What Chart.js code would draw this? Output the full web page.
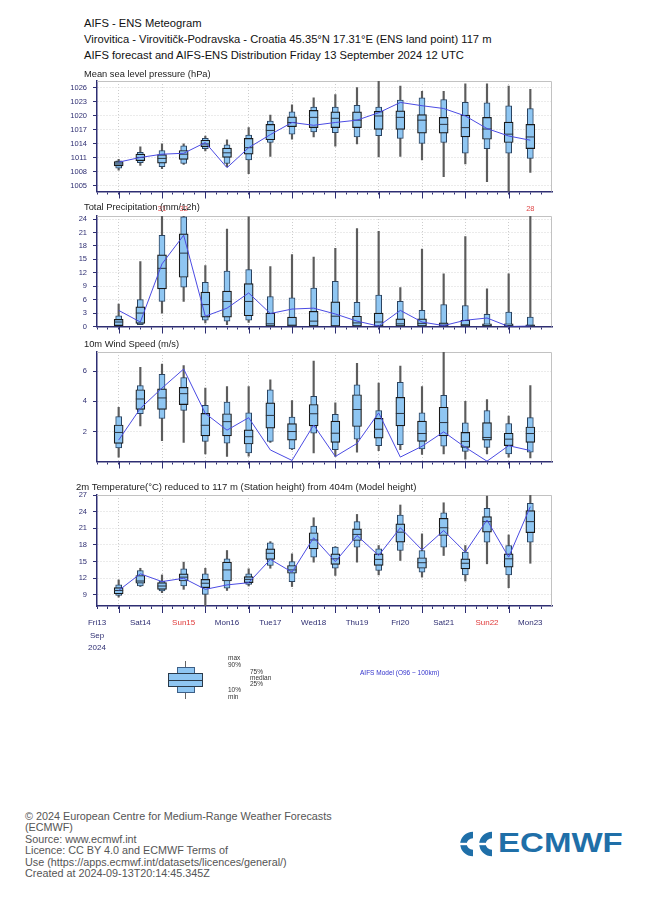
<!DOCTYPE html>
<html>
<head>
<meta charset="utf-8">
<script src="https://cdn.jsdelivr.net/npm/chart.js@4/dist/chart.umd.min.js"></script>
<style>
  body { margin: 0; width: 650px; height: 897px; background: #fff; position: relative; overflow: hidden;
         font-family: "Liberation Sans", Arial, sans-serif; }
  .txt { position: absolute; white-space: nowrap; line-height: 1; }
  canvas { position: absolute; left: 0; }
  .lg { position: absolute; box-sizing: border-box; }
</style>
</head>
<body>
<div class="txt" style="left:84px;top:18px;font-size:11.2px;color:#111">AIFS - ENS Meteogram</div>
<div class="txt" style="left:84px;top:34px;font-size:11.2px;color:#111">Virovitica - Virovitičk-Podravska - Croatia 45.35°N 17.31°E (ENS land point) 117 m</div>
<div class="txt" style="left:84px;top:50px;font-size:11.2px;color:#111">AIFS forecast and AIFS-ENS Distribution Friday 13 September 2024 12 UTC</div>

<canvas id="cPres"></canvas>
<canvas id="cRain"></canvas>
<canvas id="cWind"></canvas>
<canvas id="cTemp"></canvas>

<div class="txt" style="left:84px;top:70px;font-size:9.3px;color:#222">Mean sea level pressure (hPa)</div>
<div class="txt" style="left:84px;top:203px;font-size:9.3px;color:#222">Total Precipitation (mm/12h)</div>
<div class="txt" style="left:84px;top:340px;font-size:9.3px;color:#222">10m Wind Speed (m/s)</div>
<div class="txt" style="left:76px;top:482px;font-size:9.5px;color:#222">2m Temperature(°C) reduced to 117 m (Station height) from 404m (Model height)</div>

<!-- legend -->
<div class="lg" style="left:185px;top:661px;width:1px;height:38px;background:#666"></div>
<div class="lg" style="left:177px;top:667px;width:18px;height:26px;background:#8fc6f2;border:1px solid #3d5f86"></div>
<div class="lg" style="left:168px;top:673px;width:35px;height:14px;background:#8fc6f2;border:1px solid #2a3a4a"></div>
<div class="lg" style="left:168px;top:680px;width:35px;height:1px;background:#2a3a4a"></div>
<div class="txt" style="left:228px;top:655px;font-size:6.5px;color:#333">max</div>
<div class="txt" style="left:228px;top:662px;font-size:6.5px;color:#333">90%</div>
<div class="txt" style="left:250px;top:669px;font-size:6.5px;color:#333">75%</div>
<div class="txt" style="left:250px;top:675px;font-size:6.5px;color:#333">median</div>
<div class="txt" style="left:250px;top:681px;font-size:6.5px;color:#333">25%</div>
<div class="txt" style="left:228px;top:687px;font-size:6.5px;color:#333">10%</div>
<div class="txt" style="left:228px;top:694px;font-size:6.5px;color:#333">min</div>
<div class="txt" style="left:360px;top:670px;font-size:6.5px;color:#3333cc">AIFS Model (O96 ~ 100km)</div>

<!-- footer -->
<div class="txt" style="left:25px;top:811px;font-size:10.8px;line-height:11.4px;color:#555">© 2024 European Centre for Medium-Range Weather Forecasts<br>(ECMWF)<br>Source: www.ecmwf.int<br>Licence: CC BY 4.0 and ECMWF Terms of<br>Use (https://apps.ecmwf.int/datasets/licences/general/)<br>Created at 2024-09-13T20:14:45.345Z</div>

<svg style="position:absolute;left:455px;top:830px" width="42" height="28" viewBox="0 0 42 28">
  <path d="M18 5 A9.5 9 0 1 0 18 23" fill="none" stroke="#1f6fa8" stroke-width="6.5"/>
  <path d="M37 5 A9.5 9 0 1 0 37 23" fill="none" stroke="#1f6fa8" stroke-width="6.5"/>
  <rect x="0" y="12.8" width="36" height="2.4" fill="#fff"/>
</svg>
<div class="txt" style="left:498px;top:829px;font-size:28px;font-weight:bold;color:#1f6fa8;transform:scaleX(1.18);transform-origin:left top">ECMWF</div>

<script>
// forecast steps in hours from Fri 13 Sep 00 UTC
const steps = [12, 24, 36, 48, 60, 72, 84, 96, 108, 120, 132, 144, 156, 168, 180, 192, 204, 216, 228, 240];
const dayLabels = ['Fri13', 'Sat14', 'Sun15', 'Mon16', 'Tue17', 'Wed18', 'Thu19', 'Fri20', 'Sat21', 'Sun22', 'Mon23'];

// mean sea level pressure (hPa)
const presMin = [1008.4, 1009.4, 1008.7, 1009.6, 1012.5, 1009.1, 1007.6, 1011.3, 1015.0, 1015.5, 1013.5, 1014.0, 1011.2, 1011.3, 1010.6, 1007.0, 1009.7, 1005.9, 1003.0, 1007.9];
const pres10 = [1008.8, 1010.0, 1009.1, 1009.8, 1013.0, 1009.8, 1010.6, 1014.3, 1016.1, 1016.6, 1016.4, 1015.5, 1015.8, 1015.2, 1014.1, 1014.3, 1012.0, 1013.0, 1012.0, 1010.9];
const pres25 = [1009.3, 1010.4, 1009.9, 1010.7, 1013.4, 1011.1, 1011.8, 1014.9, 1017.7, 1017.5, 1017.5, 1017.5, 1017.1, 1017.1, 1016.3, 1016.3, 1015.5, 1015.0, 1014.3, 1013.0];
const presMed = [1009.7, 1011.1, 1010.9, 1011.8, 1014.0, 1012.1, 1013.2, 1016.9, 1018.6, 1019.7, 1019.5, 1019.1, 1020.0, 1019.7, 1019.1, 1018.2, 1017.5, 1017.2, 1016.1, 1015.5];
const pres75 = [1010.2, 1011.8, 1011.7, 1012.6, 1014.8, 1013.1, 1015.2, 1018.2, 1019.8, 1021.2, 1020.9, 1020.9, 1021.0, 1021.1, 1020.3, 1019.7, 1020.2, 1019.7, 1018.7, 1018.2];
const pres90 = [1010.4, 1012.2, 1012.6, 1013.6, 1015.2, 1013.8, 1015.9, 1018.9, 1020.9, 1021.9, 1021.9, 1022.3, 1021.9, 1023.4, 1023.9, 1023.5, 1022.9, 1022.8, 1022.2, 1021.6];
const presMax = [1010.7, 1013.4, 1014.0, 1014.0, 1015.7, 1014.9, 1017.5, 1020.2, 1022.4, 1023.9, 1024.6, 1026.1, 1028.0, 1026.4, 1025.3, 1025.3, 1026.9, 1026.9, 1026.4, 1025.7];
const presDet = [1010.1, 1011.1, 1011.8, 1012.0, 1014.3, 1008.9, 1013.2, 1016.0, 1018.6, 1018.0, 1018.6, 1019.1, 1020.7, 1022.9, 1022.2, 1021.6, 1020.0, 1017.3, 1015.7, 1014.8];

// total precipitation (mm/12h)
const rainMin = [0, 0.4, 3.0, 5.6, 0.8, 0.4, 0.9, 0, 0, 0, 0, 0, 0, 0, 0, 0, 0, 0, 0, 0];
const rain10 = [0, 0.4, 5.6, 8.8, 1.4, 1.2, 1.4, 0, 0, 0, 0, 0, 0, 0, 0, 0, 0, 0, 0, 0];
const rain25 = [0.2, 0.7, 8.4, 11.0, 2.1, 2.1, 2.4, 0, 0, 0, 0, 0, 0, 0, 0, 0, 0, 0, 0, 0];
const rainMed = [1.0, 3.0, 13.0, 16.4, 4.9, 5.6, 5.6, 0.6, 0.3, 1.2, 2.3, 0.8, 1.0, 0.6, 0.7, 0.3, 0.4, 0.2, 0.2, 0.2];
const rain75 = [1.6, 4.4, 16.0, 20.7, 7.7, 7.9, 9.6, 3.0, 2.1, 3.4, 5.5, 2.3, 3.0, 1.7, 1.7, 0.8, 1.4, 0.6, 0.6, 0.4];
const rain90 = [2.4, 6.0, 20.4, 24.5, 9.9, 12.4, 12.7, 6.7, 6.4, 8.6, 10.1, 5.4, 7.0, 5.6, 3.6, 4.9, 4.7, 2.7, 3.2, 2.1];
const rainMax = [5.0, 14.5, 31, 32, 13.6, 21.8, 24.5, 13.4, 16.1, 15.5, 17.5, 21.9, 21.3, 8.7, 17.3, 11.8, 20.1, 8.4, 11.8, 28];
const rainDet = [3.6, 1.0, 14.0, 20.4, 2.3, 4.1, 7.5, 2.9, 3.9, 4.1, 2.8, 1.2, 0.1, 3.6, 1.0, 0.2, 1.4, 1.9, 0.0, 0.1];

// 10m wind speed (m/s)
const windMin = [0.34, 2.39, 1.42, 1.31, 0.55, 0.38, 0.4, 1.3, 0.83, 0.62, 0.38, 0.66, 0.77, 0.83, 0.51, 0.55, 0.2, 0.55, 0.34, 0.29];
const wind10 = [0.94, 3.19, 2.89, 3.41, 1.37, 1.26, 0.62, 1.37, 0.88, 1.91, 0.83, 1.52, 1.09, 1.16, 0.88, 1.05, 0.72, 0.98, 0.55, 0.66];
const wind25 = [1.24, 3.47, 3.47, 3.79, 1.74, 1.74, 1.2, 2.24, 1.46, 2.39, 1.31, 2.35, 1.59, 2.39, 1.37, 1.74, 0.98, 1.46, 1.09, 1.31];
const windMed = [1.96, 4.16, 4.23, 4.51, 2.43, 2.67, 1.68, 3.08, 2.02, 3.19, 1.91, 3.47, 2.17, 3.21, 1.89, 2.61, 1.37, 1.63, 1.52, 1.89];
const wind75 = [2.45, 4.77, 4.83, 4.92, 3.21, 3.19, 2.13, 3.9, 2.54, 3.8, 2.71, 4.44, 2.89, 4.27, 2.71, 3.62, 1.96, 2.61, 1.91, 2.32];
const wind90 = [3.0, 5.05, 5.78, 5.57, 3.75, 3.95, 3.25, 4.77, 2.97, 4.34, 3.15, 5.09, 3.4, 5.26, 3.25, 4.4, 2.6, 3.4, 2.54, 2.93];
const windMax = [3.62, 6.24, 6.45, 6.35, 4.88, 4.98, 4.98, 5.42, 4.05, 6.65, 3.9, 6.5, 5.2, 6.32, 4.98, 7.4, 4.01, 4.12, 3.04, 5.05];
const windDet = [1.46, 3.54, 4.88, 6.13, 3.21, 2.11, 2.93, 0.81, 0.12, 2.45, 0.38, 1.24, 3.25, 0.34, 1.05, 2.0, 0.98, 0.07, 1.09, 0.77];

// 2m temperature (°C)
const tempMin = [8.6, 10.5, 9.4, 10.0, 6.4, 9.8, 10.6, 13.8, 10.5, 14.9, 12.5, 14.9, 12.6, 15.2, 12.2, 16.1, 11.5, 14.6, 10.3, 14.7];
const temp10 = [8.9, 10.6, 9.7, 10.6, 9.1, 10.2, 10.9, 14.3, 11.4, 15.8, 13.8, 17.6, 13.4, 17.0, 13.1, 17.6, 12.6, 18.5, 12.6, 18.5];
const temp25 = [9.2, 11.1, 10.0, 11.5, 10.3, 11.5, 11.2, 15.4, 12.9, 17.3, 14.5, 18.8, 14.3, 18.5, 13.8, 19.7, 13.7, 20.3, 14.0, 20.2];
const tempMed = [9.8, 11.5, 10.6, 12.2, 11.1, 13.5, 11.8, 16.5, 13.5, 18.9, 15.5, 19.9, 15.4, 20.3, 14.8, 21.1, 14.7, 22.2, 15.5, 22.2];
const temp75 = [10.3, 12.5, 11.2, 12.8, 11.8, 14.9, 12.3, 17.3, 14.3, 20.2, 16.4, 20.9, 16.4, 21.8, 15.7, 22.8, 15.5, 23.1, 16.4, 24.2];
const temp90 = [10.8, 13.4, 11.5, 13.7, 12.8, 15.5, 12.8, 18.4, 15.0, 21.4, 17.6, 22.2, 17.3, 23.4, 17.0, 23.8, 16.7, 24.6, 17.9, 25.5];
const tempMax = [11.7, 13.8, 12.6, 14.9, 13.8, 17.0, 13.7, 18.6, 16.4, 22.9, 17.7, 23.5, 17.9, 25.2, 20.0, 25.6, 17.9, 26.8, 19.8, 27.5];
const tempDet = [9.8, 12.8, 11.4, 12.0, 10.0, 10.8, 11.2, 15.4, 13.1, 19.3, 15.0, 19.7, 16.1, 21.1, 17.1, 20.6, 16.7, 22.5, 15.8, 24.9];

const axisColor = '#2e2e72';
const boxFill = '#8fc6f2';
const PAD_TOP = 14;

const range = (lo, hi) => steps.map((s, i) => ({ x: s, y: [lo[i], hi[i]] }));
const points = (vals) => steps.map((s, i) => ({ x: s, y: vals[i] }));

const boxDatasets = (lo, p10, p25, med, p75, p90, hi, det) => [
  { type: 'line', data: points(det), borderColor: '#4b4be3', borderWidth: 1, pointRadius: 0, order: 1 },
  { type: 'line', data: points(med), showLine: false, pointStyle: 'line', pointRadius: 4.5,
    pointBorderColor: '#2a3440', pointBorderWidth: 1, order: 2 },
  { type: 'bar', data: range(p25, p75), barThickness: 9, backgroundColor: boxFill, borderColor: '#1a1a1a',
    borderWidth: 1.2, borderSkipped: false, grouped: false, order: 3 },
  { type: 'bar', data: range(p10, p90), barThickness: 6, backgroundColor: boxFill, borderColor: '#2c4460',
    borderWidth: 1, borderSkipped: false, grouped: false, order: 4 },
  { type: 'bar', data: range(lo, hi), barThickness: 1.5, backgroundColor: '#5c5c5c', borderWidth: 0,
    grouped: false, order: 5 },
];

// light frame on top/right, long ticks under the vertical grid lines, red labels for clipped maxima
const framePlugin = {
  id: 'frame',
  beforeDatasetsDraw(chart) {
    const { ctx, chartArea: a } = chart;
    ctx.save();
    ctx.strokeStyle = '#c2c2c2';
    ctx.lineWidth = 1;
    ctx.beginPath();
    ctx.moveTo(a.left, a.top + 0.5);
    ctx.lineTo(a.right - 0.5, a.top + 0.5);
    ctx.lineTo(a.right - 0.5, a.bottom);
    ctx.stroke();
    const xs = chart.scales.x;
    ctx.strokeStyle = axisColor;
    ctx.beginPath();
    for (let h = 12; h < xs.max; h += 24) {
      const px = Math.round(xs.getPixelForValue(h)) + 0.5;
      ctx.moveTo(px, a.bottom);
      ctx.lineTo(px, a.bottom + 7);
    }
    ctx.stroke();
    ctx.restore();
  },
  afterDatasetsDraw(chart) {
    if (!chart.options.plugins.frame || !chart.options.plugins.frame.overflow) return;
    const { ctx, chartArea: a } = chart;
    const ys = chart.scales.y;
    const xs = chart.scales.x;
    const whisker = chart.data.datasets[4].data;
    ctx.save();
    ctx.fillStyle = '#e04848';
    ctx.font = '7.5px "Liberation Sans", Arial, sans-serif';
    ctx.textAlign = 'center';
    ctx.textBaseline = 'middle';
    whisker.forEach((d) => {
      if (d.y[1] > ys.max) {
        ctx.fillText(String(Math.round(d.y[1])), xs.getPixelForValue(d.x), a.top - 7);
      }
    });
    ctx.restore();
  },
};

function makePanel(id, plotTop, plotBottom, yMin, yMax, yStep, datasets, withLabels, overflow) {
  const axisH = withLabels ? 50 : 10;
  const canvas = document.getElementById(id);
  canvas.width = 650;
  canvas.height = plotBottom - plotTop + PAD_TOP + axisH;
  canvas.style.top = (plotTop - PAD_TOP) + 'px';

  new Chart(canvas, {
    type: 'bar',
    data: { datasets },
    plugins: [framePlugin],
    options: {
      responsive: false,
      animation: false,
      events: [],
      devicePixelRatio: 1,
      layout: { padding: { left: 57, right: 98, top: PAD_TOP, bottom: 0 } },
      plugins: { legend: { display: false }, tooltip: { enabled: false }, frame: { overflow } },
      scales: {
        x: {
          type: 'linear',
          min: 0,
          max: 252,
          offset: false,
          afterBuildTicks: (scale) => {
            const t = [];
            for (let h = 0; h < 252; h += 6) t.push({ value: h });
            scale.ticks = t;
          },
          afterFit: (scale) => { scale.height = axisH; },
          grid: {
            offset: false,
            drawOnChartArea: true,
            color: (c) => (c.tick && c.tick.value % 24 === 12 ? '#cdcdcd' : 'rgba(0,0,0,0)'),
            tickColor: axisColor,
            tickLength: 3,
          },
          border: { color: axisColor, width: 1.5, dash: [1, 2] },
          ticks: {
            display: withLabels,
            autoSkip: false,
            maxRotation: 0,
            padding: 8,
            font: { size: 8, family: '"Liberation Sans", Arial, sans-serif', lineHeight: 1.55 },
            color: (c) => {
              const d = c.tick.value / 24;
              return d === 2 || d === 9 ? '#e03a3a' : axisColor;
            },
            callback: (v) => {
              if (v % 24 !== 0) return '';
              const d = v / 24;
              return d === 0 ? [dayLabels[0], 'Sep', '2024'] : dayLabels[d];
            },
          },
        },
        y: {
          type: 'linear',
          min: yMin,
          max: yMax,
          afterFit: (scale) => { scale.width = 40; },
          grid: { color: '#d6d6d6', tickColor: axisColor, tickLength: 4 },
          border: { color: axisColor, width: 1.5, dash: [1, 2] },
          ticks: {
            stepSize: yStep,
            includeBounds: false,
            padding: 6,
            color: axisColor,
            font: { size: 7.5, family: '"Liberation Sans", Arial, sans-serif' },
            callback: (v) => String(v),
          },
        },
      },
    },
  });
}

makePanel('cPres', 81, 192, 1003.8, 1027.5, 3,
  boxDatasets(presMin, pres10, pres25, presMed, pres75, pres90, presMax, presDet), false, false);
makePanel('cRain', 216, 327, 0, 24.7, 3,
  boxDatasets(rainMin, rain10, rain25, rainMed, rain75, rain90, rainMax, rainDet), false, true);
makePanel('cWind', 352, 462, 0.05, 7.25, 2,
  boxDatasets(windMin, wind10, wind25, windMed, wind75, wind90, windMax, windDet), false, false);
makePanel('cTemp', 495, 606, 7, 27, 3,
  boxDatasets(tempMin, temp10, temp25, tempMed, temp75, temp90, tempMax, tempDet), true, false);
</script>
</body>
</html>
